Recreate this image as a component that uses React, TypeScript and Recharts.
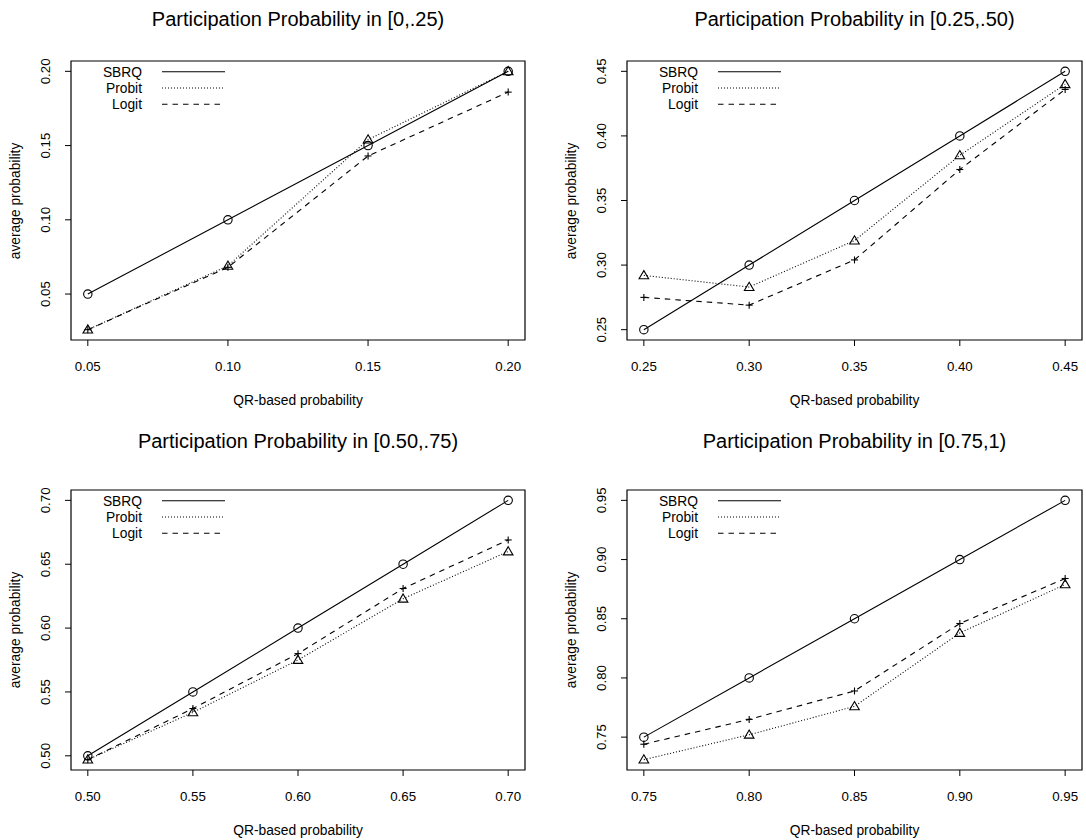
import React from "react";
import { LineChart, Line, XAxis, YAxis, Legend, ReferenceArea } from "recharts";

// QR-based probability (x) and tick values for each panel
const qr1 = [0.05, 0.1, 0.15, 0.2];
const qr2 = [0.25, 0.3, 0.35, 0.4, 0.45];
const qr3 = [0.5, 0.55, 0.6, 0.65, 0.7];
const qr4 = [0.75, 0.8, 0.85, 0.9, 0.95];

const yTicks1 = [0.05, 0.1, 0.15, 0.2];
const yTicks2 = [0.25, 0.3, 0.35, 0.4, 0.45];
const yTicks3 = [0.5, 0.55, 0.6, 0.65, 0.7];
const yTicks4 = [0.75, 0.8, 0.85, 0.9, 0.95];

// average probability per model
const sbrq1 = [0.05, 0.1, 0.15, 0.2];
const probit1 = [0.026, 0.069, 0.154, 0.2];
const logit1 = [0.026, 0.068, 0.143, 0.186];

const sbrq2 = [0.25, 0.3, 0.35, 0.4, 0.45];
const probit2 = [0.292, 0.283, 0.319, 0.385, 0.44];
const logit2 = [0.275, 0.269, 0.304, 0.374, 0.436];

const sbrq3 = [0.5, 0.55, 0.6, 0.65, 0.7];
const probit3 = [0.497, 0.534, 0.575, 0.623, 0.66];
const logit3 = [0.497, 0.537, 0.58, 0.631, 0.669];

const sbrq4 = [0.75, 0.8, 0.85, 0.9, 0.95];
const probit4 = [0.731, 0.752, 0.776, 0.838, 0.879];
const logit4 = [0.744, 0.765, 0.789, 0.846, 0.884];

const titles = [
  "Participation Probability in [0,.25)",
  "Participation Probability in [0.25,.50)",
  "Participation Probability in [0.50,.75)",
  "Participation Probability in [0.75,1)",
];

const FONT = "'Liberation Sans', Arial, Helvetica, sans-serif";

const series = [
  { key: "sbrq", name: "SBRQ", dash: undefined, shape: "circle" },
  { key: "probit", name: "Probit", dash: "1 2", shape: "triangle" },
  { key: "logit", name: "Logit", dash: "5.5 5", shape: "plus" },
];

// panel placement: chart origin + plot box (absolute px: left, top, right, bottom)
const panels = [
  { x: qr1, yTicks: yTicks1, sbrq: sbrq1, probit: probit1, logit: logit1, left: 0, top: 0, box: [71, 61, 525, 340], titleY: 19 },
  { x: qr2, yTicks: yTicks2, sbrq: sbrq2, probit: probit2, logit: logit2, left: 543, top: 0, box: [627, 61, 1082, 340], titleY: 19 },
  { x: qr3, yTicks: yTicks3, sbrq: sbrq3, probit: probit3, logit: logit3, left: 0, top: 420, box: [71, 490, 525, 770], titleY: 441 },
  { x: qr4, yTicks: yTicks4, sbrq: sbrq4, probit: probit4, logit: logit4, left: 543, top: 420, box: [627, 490, 1082, 770], titleY: 441 },
];

// R style 4% padding of the data range
const padded = (vals: number[]): [number, number] => {
  const lo = Math.min(...vals);
  const hi = Math.max(...vals);
  const p = (hi - lo) * 0.04;
  return [lo - p, hi + p];
};

const Marker = ({ cx, cy, shape }: any) => {
  if (cx == null || cy == null) return null;
  if (shape === "circle") {
    return <circle cx={cx} cy={cy} r={4.2} fill="none" stroke="#000" strokeWidth={1.1} />;
  }
  if (shape === "triangle") {
    const pts = `${cx},${cy - 4.8} ${cx + 4.8},${cy + 3.4} ${cx - 4.8},${cy + 3.4}`;
    return <polygon points={pts} fill="none" stroke="#000" strokeWidth={1.1} />;
  }
  return (
    <g stroke="#000" strokeWidth={1.1}>
      <line x1={cx - 3.5} y1={cy} x2={cx + 3.5} y2={cy} />
      <line x1={cx} y1={cy - 3.5} x2={cx} y2={cy + 3.5} />
    </g>
  );
};

const YTick = (props: any) => {
  const { x, y, payload } = props;
  const bx = x - 13;
  return (
    <text
      x={bx}
      y={y}
      transform={`rotate(-90 ${bx} ${y})`}
      textAnchor="middle"
      fill="#000"
      fontSize={13.3}
      fontFamily={FONT}
    >
      {Number(payload.value).toFixed(2)}
    </text>
  );
};

// legend drawn in R order (SBRQ, Probit, Logit), no box
const LegendBox = () => (
  <svg width={170} height={56} style={{ display: "block" }}>
    {series.map((s, i) => {
      const y = 10.7 + i * 16.3;
      return (
        <g key={s.key}>
          <text x={71} y={y} dy="0.35em" textAnchor="end" fontSize={13.8} fontFamily={FONT} fill="#000">
            {s.name}
          </text>
          <line x1={91} y1={y} x2={154} y2={y} stroke="#000" strokeWidth={1.1} strokeDasharray={s.dash} />
        </g>
      );
    })}
  </svg>
);

const Panel = ({ cfg, title }: any) => {
  const data = cfg.x.map((x: number, i: number) => ({
    x,
    sbrq: cfg.sbrq[i],
    probit: cfg.probit[i],
    logit: cfg.logit[i],
  }));
  const xd = padded(cfg.x);
  const yd = padded([...cfg.sbrq, ...cfg.probit, ...cfg.logit]);
  const [bl, bt, br, bb] = cfg.box;
  const rl = bl - cfg.left;
  const rt = bt - cfg.top;
  const rr = cfg.left + 543 - br;
  const rb = cfg.top + 420 - bb;
  const cx = (rl + 543 - rr) / 2;
  const cy = (rt + 420 - rb) / 2;

  return (
    <div style={{ position: "absolute", left: cfg.left, top: cfg.top, width: 543, height: 420, fontFamily: FONT }}>
      <LineChart width={543} height={420} data={data} margin={{ top: rt, left: rl - 40, right: rr, bottom: rb - 30 }}>
        <XAxis
          type="number"
          dataKey="x"
          domain={xd}
          ticks={cfg.x}
          allowDataOverflow
          axisLine={false}
          tickLine={{ stroke: "#000" }}
          tickSize={6}
          tickMargin={16}
          height={30}
          tick={{ fill: "#000", fontSize: 13.3, fontFamily: FONT }}
          tickFormatter={(v: number) => v.toFixed(2)}
        />
        <YAxis
          type="number"
          domain={yd}
          ticks={cfg.yTicks}
          allowDataOverflow
          axisLine={false}
          tickLine={{ stroke: "#000" }}
          tickSize={6}
          width={40}
          tick={<YTick />}
        />
        <ReferenceArea
          x1={xd[0]}
          x2={xd[1]}
          y1={yd[0]}
          y2={yd[1]}
          fill="none"
          stroke="#000"
          strokeWidth={1.2}
          ifOverflow="visible"
        />
        {series.map((s) => (
          <Line
            key={s.key}
            type="linear"
            dataKey={s.key}
            name={s.name}
            stroke="#000"
            strokeWidth={1.1}
            strokeDasharray={s.dash}
            isAnimationActive={false}
            activeDot={false}
            dot={(p: any) => <Marker key={`${s.key}-${p.index}`} cx={p.cx} cy={p.cy} shape={s.shape} />}
          />
        ))}
        <Legend
          layout="horizontal"
          verticalAlign="middle"
          align="center"
          content={<LegendBox />}
          wrapperStyle={{ left: rl, top: rt, width: 170, height: 56 }}
        />
      </LineChart>
      <div
        style={{
          position: "absolute",
          left: cx - 250,
          width: 500,
          top: cfg.titleY - cfg.top - 12,
          height: 24,
          lineHeight: "24px",
          textAlign: "center",
          fontSize: 20,
          color: "#000",
        }}
      >
        {title}
      </div>
      <div
        style={{
          position: "absolute",
          left: cx - 150,
          width: 300,
          top: 420 - rb + 61 - 10,
          height: 20,
          lineHeight: "20px",
          textAlign: "center",
          fontSize: 13.8,
          color: "#000",
        }}
      >
        QR-based probability
      </div>
      <div
        style={{
          position: "absolute",
          left: rl - 55 - 100,
          width: 200,
          top: cy - 10,
          height: 20,
          lineHeight: "20px",
          textAlign: "center",
          fontSize: 13.8,
          color: "#000",
          transform: "rotate(-90deg)",
        }}
      >
        average probability
      </div>
    </div>
  );
};

export default function App() {
  return (
    <div style={{ position: "absolute", left: 0, top: 0, width: 1086, height: 840, background: "#fff" }}>
      {panels.map((p, i) => (
        <Panel key={i} cfg={p} title={titles[i]} />
      ))}
    </div>
  );
}
